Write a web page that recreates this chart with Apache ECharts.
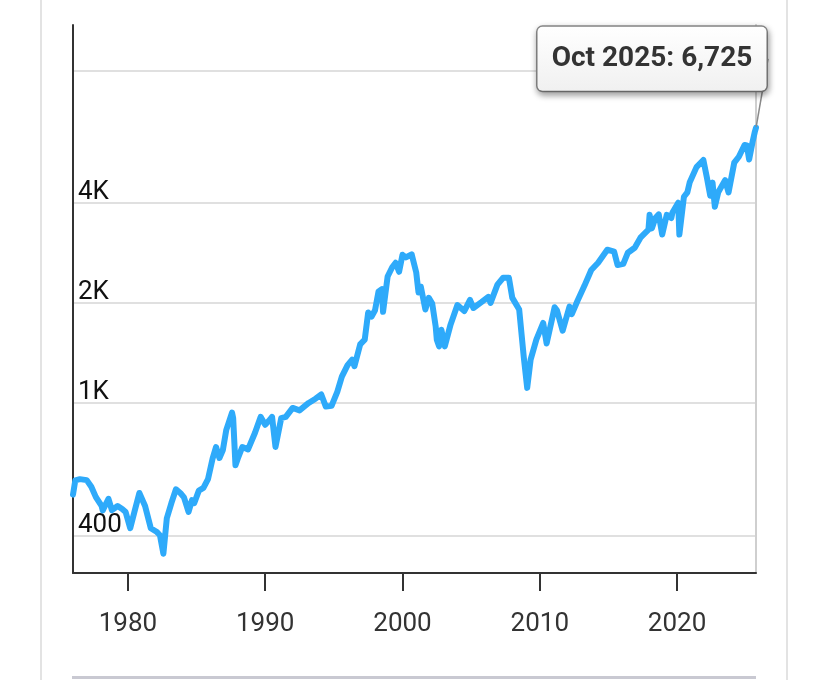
<!DOCTYPE html>
<html>
<head>
<meta charset="utf-8">
<script src="https://cdn.jsdelivr.net/npm/echarts@6/dist/echarts.min.js"></script>
<style>
  html, body { margin: 0; padding: 0; background: #fff; }
  #wrap { position: relative; width: 828px; height: 680px; overflow: hidden; }
  .vline { position: absolute; top: 0; height: 680px; width: 2px; background: #e3e3e3; }
  .hbar { position: absolute; left: 72px; width: 684px; top: 676px; height: 3px; background: #c9c9d2; }
  #chart { position: absolute; left: 0; top: 0; width: 828px; height: 680px; }
</style>
</head>
<body>
<div id="wrap">
  <div class="vline" style="left:40px"></div>
  <div class="vline" style="left:786px"></div>
  <div class="hbar"></div>
  <div id="chart"></div>
</div>
<script>
// Monthly points (inflation-adjusted index, log scale)
const dates = [
  '1976-01','1976-03','1976-07','1977-01','1977-05','1977-09','1978-02','1978-03','1978-08','1978-11',
  '1979-04','1979-08','1979-11','1980-03','1980-07','1980-11','1981-04','1981-09','1982-02','1982-05',
  '1982-08','1982-11','1983-03','1983-07','1983-11','1984-02','1984-06','1984-09','1984-11','1985-03','1985-07',
  '1985-11','1986-03','1986-06','1986-09','1986-12','1987-03','1987-08','1987-09','1987-11','1988-01',
  '1988-05','1988-10','1989-04','1989-09','1990-01','1990-05','1990-07','1990-10','1991-03','1991-07',
  '1992-01','1992-07','1993-03','1993-09','1994-02','1994-06','1994-11','1995-04','1995-08','1996-01',
  '1996-05','1996-07','1996-12','1997-04','1997-07','1997-10','1998-01','1998-04','1998-07','1998-08',
  '1998-12','1999-04','1999-07','1999-10','2000-01','2000-04','2000-09','2001-01','2001-03','2001-05',
  '2001-09','2001-12','2002-03','2002-06','2002-07','2002-09','2002-11','2003-02','2003-07','2004-01',
  '2004-07','2004-12','2005-03','2005-10','2006-04','2006-06','2006-12','2007-05','2007-10','2008-01',
  '2008-07','2008-11','2009-02','2009-05','2009-10','2010-04','2010-07','2011-02','2011-04','2011-09',
  '2012-03','2012-05','2012-10','2013-04','2013-10','2014-04','2014-12','2015-06','2015-09','2016-02',
  '2016-06','2016-12','2017-05','2017-12','2018-01','2018-03','2018-06','2018-09','2018-12','2019-04',
  '2019-08','2019-09','2020-02','2020-03','2020-07','2020-10','2020-12','2021-06','2021-12','2022-03',
  '2022-06','2022-08','2022-10','2023-01','2023-07','2023-10','2024-03','2024-07','2024-12','2025-02',
  '2025-04','2025-07','2025-09','2025-10'
];
const values = [
  530,585,590,586,560,521,490,475,515,476,
  490,480,470,420,475,536,490,420,410,400,
  352,450,500,550,535,520,470,510,500,545,555,
  590,680,737,683,722,830,935,900,650,680,
  737,725,812,908,860,890,908,737,900,908,
  966,950,1000,1030,1060,975,980,1080,1200,1300,
  1350,1290,1500,1550,1870,1820,1900,2160,2200,1880,
  2400,2560,2640,2480,2790,2740,2800,2470,2150,2240,
  1910,2070,1990,1700,1550,1480,1660,1480,1720,1970,
  1890,2040,1930,2010,2085,2000,2270,2380,2380,2070,
  1910,1375,1110,1350,1550,1740,1510,1940,1900,1650,
  1950,1850,2030,2250,2510,2640,2890,2850,2600,2620,
  2830,2930,3140,3320,3680,3350,3600,3690,3210,3680,
  3600,3740,4000,3210,4170,4300,4600,5120,5380,4780,
  4200,4600,3890,4300,4680,4300,5280,5500,5970,5950,
  5400,6100,6540,6725
];
const yGridValues = [400, 1000, 2000, 4000, 10000];
const yLabelValues = [400, 1000, 2000, 4000];
const xTickYears = [1980, 1990, 2000, 2010, 2020];
const monthNames = ['Jan','Feb','Mar','Apr','May','Jun','Jul','Aug','Sep','Oct','Nov','Dec'];

// convert 'YYYY-MM' to a decimal year for the value axis
function toYear(d) {
  const p = d.split('-');
  return parseInt(p[0], 10) + (parseInt(p[1], 10) - 1) / 12;
}

const lastIdx = values.length - 1;
const lastParts = dates[lastIdx].split('-');
const calloutText = monthNames[parseInt(lastParts[1], 10) - 1] + ' ' + lastParts[0] + ': ' +
  values[lastIdx].toLocaleString('en-US');

const seriesData = dates.map((d, i) => {
  if (i !== lastIdx) return [toYear(d), values[i]];
  return {
    value: [toYear(d), values[i]],
    symbol: 'circle',
    symbolSize: 2,
    itemStyle: { color: '#2eaafa', opacity: 1 },
    label: {
      show: true,
      position: 'top',
      distance: 0,
      opacity: 1,
      formatter: calloutText,
      fontFamily: 'Roboto',
      fontWeight: 'bold',
      fontSize: 28,
      color: '#333',
      backgroundColor: {
        type: 'linear', x: 0, y: 0, x2: 0, y2: 1,
        colorStops: [{ offset: 0, color: '#ffffff' }, { offset: 1, color: '#f0f0f0' }]
      },
      borderColor: '#8a8a8a',
      borderWidth: 1.5,
      borderRadius: 5,
      width: 199,
      height: 34,
      align: 'center',
      lineHeight: 34,
      padding: [15, 15, 15, 15],
      shadowColor: 'rgba(0,0,0,0.35)',
      shadowBlur: 6,
      shadowOffsetX: 1,
      shadowOffsetY: 3
    }
  };
});

const chart = echarts.init(document.getElementById('chart'), null, { renderer: 'canvas' });
chart.setOption({
  backgroundColor: 'transparent',
  animation: false,
  grid: { left: 73, right: 72, top: 25, bottom: 107, containLabel: false },
  xAxis: {
    type: 'value',
    min: toYear(dates[0]),
    max: toYear(dates[lastIdx]),
    axisLine: { show: true, lineStyle: { color: '#333', width: 2 } },
    axisTick: {
      show: true, inside: false, length: 18,
      lineStyle: { color: '#333', width: 2 },
      customValues: xTickYears
    },
    axisLabel: {
      customValues: xTickYears,
      formatter: v => String(v),
      fontFamily: 'Roboto', fontSize: 26, color: '#333', margin: 38
    },
    splitLine: { show: false },
    minorTick: { show: false }
  },
  yAxis: [{
    type: 'log',
    logBase: 10,
    min: 308,
    max: 13700,
    axisLine: { show: true, lineStyle: { color: '#333', width: 2 } },
    axisTick: { show: false, customValues: yGridValues },
    axisLabel: {
      inside: true,
      customValues: yLabelValues,
      formatter: v => v >= 1000 ? (v / 1000) + 'K' : String(v),
      verticalAlign: 'bottom',
      lineHeight: 20,
      fontFamily: 'Roboto', fontSize: 26, color: '#111', margin: 5
    },
    splitLine: { show: true, lineStyle: { color: '#e0e0e0', width: 2 } }
  }, {
    type: 'log',
    position: 'right',
    min: 308,
    max: 13700,
    axisLine: { show: true, lineStyle: { color: '#cfcfcf', width: 2 } },
    axisTick: { show: false },
    axisLabel: { show: false },
    splitLine: { show: false }
  }],
  series: [{
    type: 'line',
    yAxisIndex: 0,
    data: seriesData,
    showSymbol: true,
    showAllSymbol: true,
    symbol: 'none',
    clip: false,
    smooth: false,
    lineStyle: { color: '#2eaafa', width: 6, cap: 'round', join: 'round' },
    itemStyle: { color: '#2eaafa' },
    labelLine: { show: true, lineStyle: { color: '#8a8a8a', width: 1.5 } },
    labelLayout: function (params) {
      return params.dataIndex === lastIdx ? { dx: -104, dy: -36 } : {};
    },
    emphasis: { disabled: true },
    z: 3
  }]
});
</script>
</body>
</html>
